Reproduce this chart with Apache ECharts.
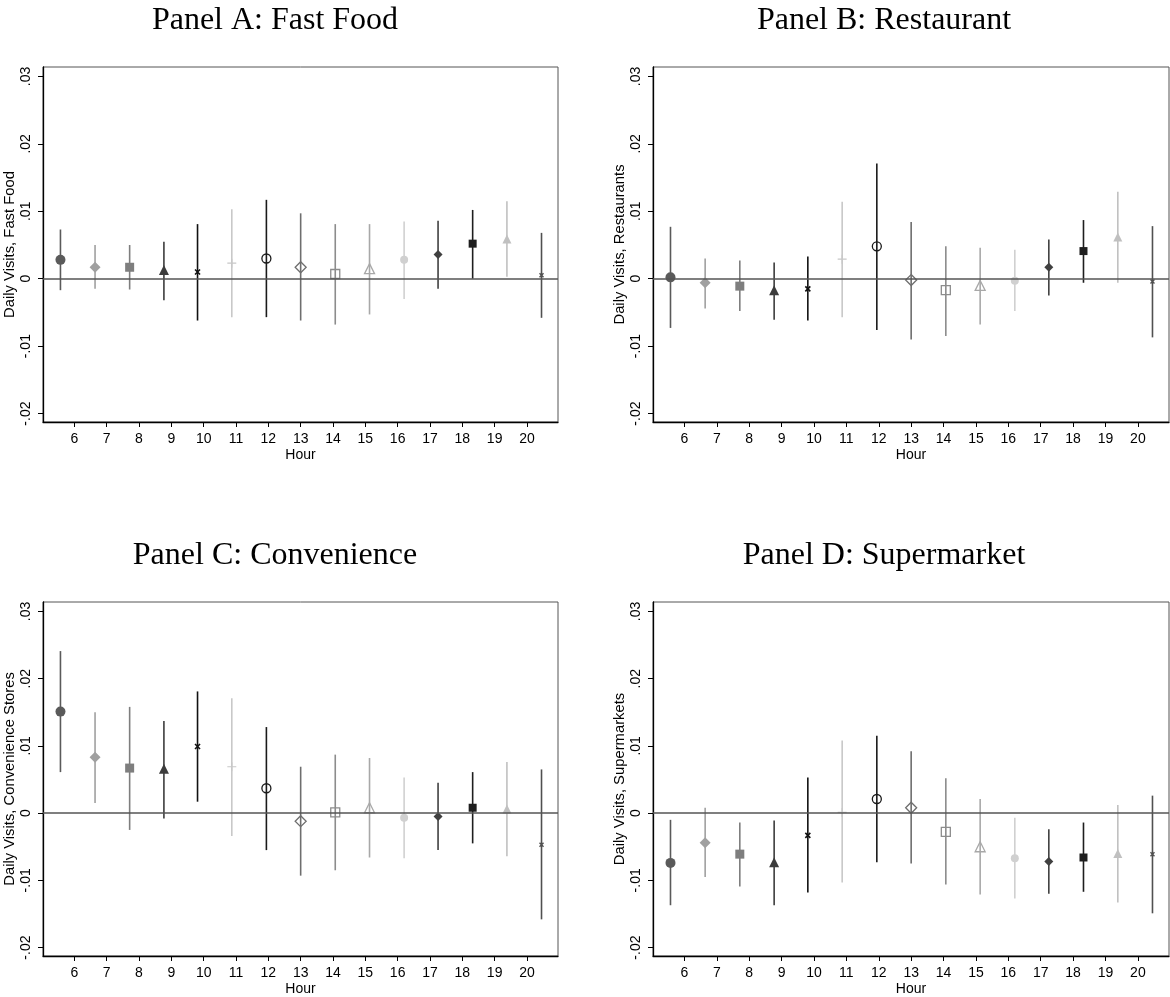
<!DOCTYPE html>
<html>
<head>
<meta charset="utf-8">
<script src="https://cdn.jsdelivr.net/npm/echarts@6/dist/echarts.min.js"></script>
<style>
html,body{margin:0;padding:0;background:#fff;}
#chart{width:1170px;height:997px;}
</style>
</head>
<body>
<div id="chart"></div>
<script>
// ---------- data ----------
const hours = [6, 7, 8, 9, 10, 11, 12, 13, 14, 15, 16, 17, 18, 19, 20];
// horizontal positions of the estimates (each hour's marker is drawn slightly offset)
const markerX = [5.57, 6.64, 7.71, 8.77, 9.81, 10.87, 11.94, 13.0, 14.07, 15.13, 16.2, 17.25, 18.32, 19.38, 20.45];
const yTicks = [-0.02, -0.01, 0, 0.01, 0.02, 0.03];

const fastFoodEst = [0.0028, 0.0017, 0.0017, 0.0013, 0.0010, 0.0023, 0.0030, 0.0017, 0.0007, 0.0015, 0.0028, 0.0036, 0.0052, 0.0059, 0.0005];
const fastFoodLo  = [-0.0017, -0.0015, -0.0016, -0.0032, -0.0062, -0.0057, -0.0057, -0.0062, -0.0068, -0.0053, -0.0030, -0.0015, 0.0000, 0.0003, -0.0058];
const fastFoodHi  = [0.0073, 0.0050, 0.0050, 0.0055, 0.0081, 0.0103, 0.0117, 0.0097, 0.0081, 0.0081, 0.0085, 0.0086, 0.0102, 0.0115, 0.0068];

const restEst = [0.0002, -0.0006, -0.0011, -0.0017, -0.0015, 0.0029, 0.0048, -0.0002, -0.0017, -0.0010, -0.0003, 0.0017, 0.0041, 0.0062, -0.0004];
const restLo  = [-0.0073, -0.0044, -0.0048, -0.0061, -0.0062, -0.0057, -0.0076, -0.0090, -0.0085, -0.0068, -0.0048, -0.0025, -0.0006, -0.0006, -0.0087];
const restHi  = [0.0077, 0.0030, 0.0027, 0.0024, 0.0033, 0.0114, 0.0171, 0.0084, 0.0048, 0.0046, 0.0043, 0.0058, 0.0087, 0.0129, 0.0078];

const convEst = [0.0151, 0.0083, 0.0067, 0.0066, 0.0099, 0.0069, 0.0037, -0.0012, 0.0001, 0.0008, -0.0007, -0.0005, 0.0008, 0.0006, -0.0047];
const convLo  = [0.0061, 0.0015, -0.0025, -0.0008, 0.0017, -0.0034, -0.0055, -0.0093, -0.0085, -0.0066, -0.0067, -0.0055, -0.0045, -0.0064, -0.0158];
const convHi  = [0.0241, 0.0150, 0.0158, 0.0137, 0.0181, 0.0171, 0.0128, 0.0069, 0.0087, 0.0082, 0.0053, 0.0045, 0.0061, 0.0076, 0.0065];

const superEst = [-0.0074, -0.0044, -0.0061, -0.0073, -0.0033, 0.0001, 0.0021, 0.0008, -0.0028, -0.0050, -0.0067, -0.0072, -0.0066, -0.0060, -0.0061];
const superLo  = [-0.0137, -0.0095, -0.0109, -0.0137, -0.0118, -0.0103, -0.0073, -0.0075, -0.0106, -0.0121, -0.0127, -0.0120, -0.0117, -0.0133, -0.0149];
const superHi  = [-0.0010, 0.0008, -0.0014, -0.0011, 0.0053, 0.0108, 0.0115, 0.0092, 0.0052, 0.0021, -0.0007, -0.0024, -0.0014, 0.0012, 0.0026];

const panelTitles = ['Panel A: Fast Food', 'Panel B: Restaurant', 'Panel C: Convenience', 'Panel D: Supermarket'];
const yAxisTitles = ['Daily Visits, Fast Food', 'Daily Visits, Restaurants', 'Daily Visits, Convenience Stores', 'Daily Visits, Supermarkets'];
const xAxisTitle = 'Hour';

// ---------- styles (one per hour) ----------
const X_PATH = 'path://M0,0L10,10M10,0L0,10';
const PLUS_PATH = 'path://M5,0L5,10M0,5L10,5';
const hourStyle = [
  {symbol: 'circle',   size: 10, color: '#5a5a5a', hollow: false},
  {symbol: 'diamond',  size: 11, color: '#a0a0a0', hollow: false},
  {symbol: 'rect',     size: 9,  color: '#7e7e7e', hollow: false},
  {symbol: 'triangle', size: 10, color: '#3c3c3c', hollow: false},
  {symbol: X_PATH,     size: 5,  color: '#111111', hollow: true, stroke: 1.6},
  {symbol: PLUS_PATH,  size: 9,  color: '#c8c8c8', hollow: true, stroke: 1.2},
  {symbol: 'circle',   size: 9,  color: '#1a1a1a', hollow: true, stroke: 1.3},
  {symbol: 'diamond',  size: 11, color: '#6e6e6e', hollow: true, stroke: 1.3},
  {symbol: 'rect',     size: 9,  color: '#8c8c8c', hollow: true, stroke: 1.3},
  {symbol: 'triangle', size: 10, color: '#a8a8a8', hollow: true, stroke: 1.3},
  {symbol: 'circle',   size: 8,  color: '#d0d0d0', hollow: false},
  {symbol: 'diamond',  size: 9,  color: '#404040', hollow: false},
  {symbol: 'rect',     size: 8,  color: '#1e1e1e', hollow: false},
  {symbol: 'triangle', size: 9,  color: '#c0c0c0', hollow: false},
  {symbol: X_PATH,     size: 4,  color: '#505050', hollow: true, stroke: 1.4}
];

const panels = [
  {est: fastFoodEst, lo: fastFoodLo, hi: fastFoodHi},
  {est: restEst, lo: restLo, hi: restHi},
  {est: convEst, lo: convLo, hi: convHi},
  {est: superEst, lo: superLo, hi: superHi}
];

const grids = [
  {left: 43, top: 67, width: 515, height: 355},
  {left: 653, top: 67, width: 516, height: 355},
  {left: 43, top: 602, width: 515, height: 356},
  {left: 653, top: 602, width: 516, height: 356}
];
const titleCenters = [[270, 0], [879, 0], [270, 535], [879, 535]];

const chart = echarts.init(document.getElementById('chart'), null, {renderer: 'canvas'});

const fmtY = v => {
  if (Math.abs(v) < 1e-9) return '0';
  const s = Math.abs(v).toFixed(2).replace(/^0/, '');
  return (v < 0 ? '-' : '') + s;
};

const option = {
  backgroundColor: '#fff',
  animation: false,
  title: panelTitles.map((t, i) => ({
    text: t,
    left: titleCenters[i][0],
    top: titleCenters[i][1],
    textAlign: 'center',
    textStyle: {fontFamily: 'Liberation Serif', fontSize: 32, fontWeight: 'normal', color: '#000'}
  })),
  grid: grids.map(g => Object.assign({show: true, borderColor: '#555', borderWidth: 1, backgroundColor: '#fff', containLabel: false}, g)),
  xAxis: grids.map((g, i) => ({
    type: 'value', gridIndex: i, min: 5.03, max: 20.96,
    name: xAxisTitle, nameLocation: 'middle', nameGap: 26,
    nameTextStyle: {fontFamily: 'Liberation Sans', fontSize: 14, color: '#000'},
    axisLine: {show: true, onZero: false, lineStyle: {color: '#000', width: 1.3}},
    axisTick: {show: true, customValues: hours, length: 5, lineStyle: {color: '#000', width: 1}},
    axisLabel: {show: true, customValues: hours, fontFamily: 'Liberation Sans', fontSize: 14, color: '#000', margin: 10},
    splitLine: {show: false}
  })),
  yAxis: grids.map((g, i) => ({
    type: 'value', gridIndex: i, min: -0.02125, max: 0.0314,
    name: yAxisTitles[i], nameLocation: 'middle', nameGap: 26, nameRotate: 90,
    nameTextStyle: {fontFamily: 'Liberation Sans', fontSize: 14.8, color: '#000'},
    axisLine: {show: true, onZero: false, lineStyle: {color: '#000', width: 1.3}},
    axisTick: {show: true, customValues: yTicks, length: 5, lineStyle: {color: '#000', width: 1}},
    axisLabel: {show: true, customValues: yTicks, rotate: 90, formatter: fmtY, fontFamily: 'Liberation Sans', fontSize: 14, color: '#000', margin: 10},
    splitLine: {show: false}
  })),
  series: []
};

panels.forEach((p, pi) => {
  // confidence intervals as vertical lines
  option.series.push({
    type: 'custom', xAxisIndex: pi, yAxisIndex: pi, silent: true, z: 2,
    data: hours.map((h, i) => [markerX[i], p.lo[i], p.hi[i], i]),
    renderItem: (params, api) => {
      const a = api.coord([api.value(0), api.value(1)]);
      const b = api.coord([api.value(0), api.value(2)]);
      const st = hourStyle[api.value(3)];
      return {type: 'line', shape: {x1: a[0], y1: a[1], x2: b[0], y2: b[1]},
              style: {stroke: st.color, lineWidth: 1.6}};
    },
    markLine: {
      silent: true, symbol: 'none', label: {show: false},
      lineStyle: {color: '#555', width: 1.5, type: 'solid'},
      data: [{yAxis: 0}]
    }
  });
  // point estimates
  option.series.push({
    type: 'scatter', xAxisIndex: pi, yAxisIndex: pi, silent: true, z: 3,
    data: hours.map((h, i) => {
      const st = hourStyle[i];
      return {
        value: [markerX[i], p.est[i]],
        symbol: st.symbol,
        symbolSize: st.size,
        itemStyle: st.hollow
          ? {color: 'rgba(255,255,255,0)', borderColor: st.color, borderWidth: st.stroke, opacity: 1}
          : {color: st.color, borderWidth: 0, opacity: 1}
      };
    })
  });
});

chart.setOption(option);
</script>
</body>
</html>
